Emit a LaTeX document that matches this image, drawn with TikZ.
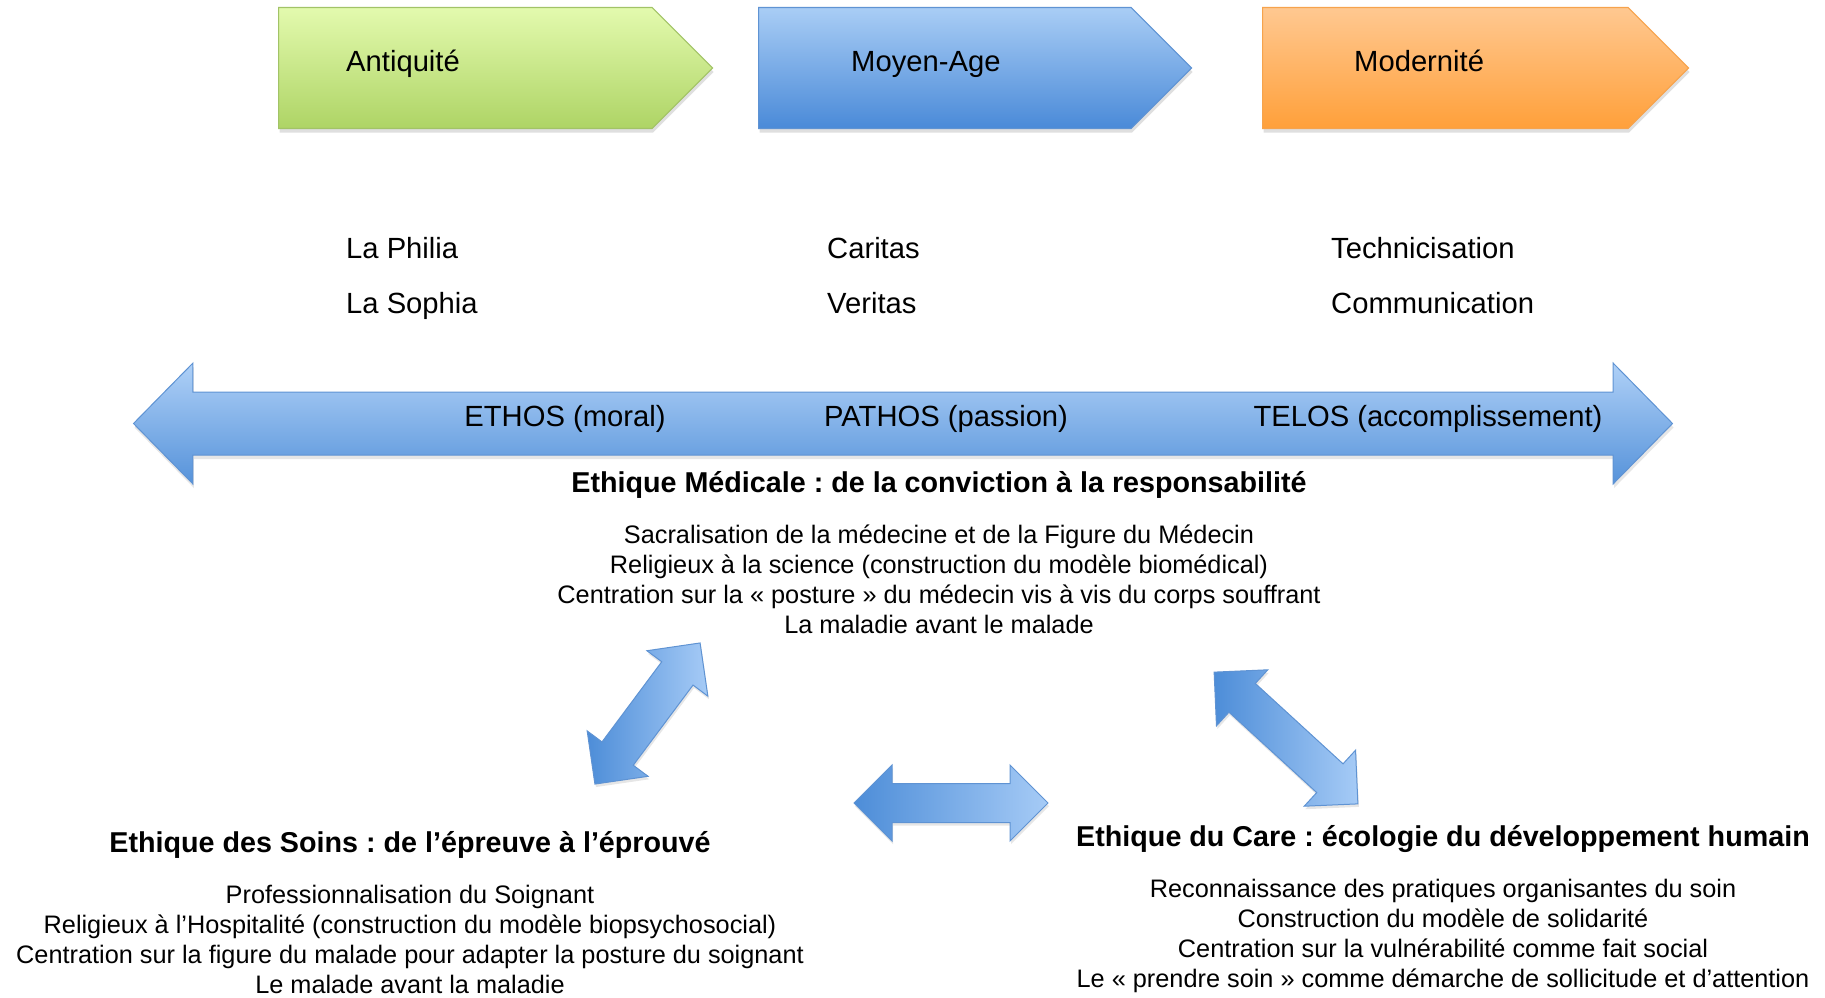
\documentclass[tikz,border=0pt]{standalone}
\usepackage{fontspec}
\setmainfont{Liberation Sans}
\usetikzlibrary{shapes.arrows,shapes.symbols,shadows}
\frenchspacing

\definecolor{greentop}{HTML}{E3FAAE}
\definecolor{greenbot}{HTML}{AED465}
\definecolor{greenline}{HTML}{A2C367}
\definecolor{bluetop}{HTML}{A9CDF5}
\definecolor{bluebot}{HTML}{4A8AD8}
\definecolor{blueline}{HTML}{5F93D3}
\definecolor{orangetop}{HTML}{FFC891}
\definecolor{orangebot}{HTML}{FFA03A}
\definecolor{orangeline}{HTML}{F6A34C}
\definecolor{arrowlight}{HTML}{A6CBF6}
\definecolor{arrowdark}{HTML}{4D8DD8}

\tikzset{
  period/.style={signal, signal to=east, signal pointer angle=90,
    minimum height=121pt, inner sep=0pt, line width=1.2pt, anchor=west,
    drop shadow={shadow xshift=1pt, shadow yshift=-4pt, opacity=0.25}},
  fatarrow/.style={double arrow, double arrow head extend=18.5pt,
    double arrow tip angle=90, inner xsep=0pt, inner ysep=19pt,
    draw=blueline, line width=1pt, left color=arrowdark, right color=arrowlight,
    drop shadow={shadow xshift=1pt, shadow yshift=-3pt, opacity=0.2}},
  big/.style={font=\fontsize{29.2}{36}\selectfont, inner sep=0pt},
  heading/.style={font=\fontsize{28.7}{34}\selectfont\bfseries, inner sep=0pt, anchor=base},
  body/.style={font=\fontsize{25.3}{30}\selectfont, align=center, anchor=north, inner sep=0pt}
}

\begin{document}
\begin{tikzpicture}[x=1pt,y=-1pt]
  \useasboundingbox (0,0) rectangle (1825,997);

  % periodes
  \node[period, minimum width=434pt, draw=greenline, top color=greentop, bottom color=greenbot] (ANTI) at (278,68) {};
  \node[period, minimum width=433pt, draw=blueline, top color=bluetop, bottom color=bluebot] (MOYEN) at (758,68) {};
  \node[period, minimum width=426pt, draw=orangeline, top color=orangetop, bottom color=orangebot] (MODERNE) at (1262,68) {};
  \node[big, anchor=base west] (ANTIT) at (346,71) {Antiquité};
  \node[big, anchor=base west] (MOYENT) at (851,71) {Moyen-Age};
  \node[big, anchor=base west] (MODERNET) at (1354,71) {Modernité};

  \node[big, anchor=base west] (PHILIA) at (346,258) {La Philia};
  \node[big, anchor=base west] (SOPHIA) at (346,313) {La Sophia};
  \node[big, anchor=base west] (CARITAS) at (827,258) {Caritas};
  \node[big, anchor=base west] (VERITAS) at (827,313) {Veritas};
  \node[big, anchor=base west] (TECH) at (1331,258) {Technicisation};
  \node[big, anchor=base west] (COMM) at (1331,313) {Communication};

  % grande fleche
  \node[double arrow, double arrow head extend=29pt, double arrow tip angle=91,
    minimum height=1539pt, inner xsep=0pt, inner ysep=31pt,
    draw=blueline, line width=1pt, top color=arrowlight!90!white, bottom color=arrowdark!95!white,
    drop shadow={shadow xshift=1pt, shadow yshift=-4pt, opacity=0.2}] (AXE) at (903,423.5) {};
  \node[big, anchor=base] (ETHOS) at (565,426) {ETHOS (moral)};
  \node[big, anchor=base] (PATHOS) at (946,426) {PATHOS (passion)};
  \node[big, anchor=base] (TELOS) at (1428,426) {TELOS (accomplissement)};

  % ethiques
  \node[heading] (MED) at (939,492) {Ethique Médicale : de la conviction à la responsabilité};
  \node[body] (MEDL) at (939,524.5) {Sacralisation de la médecine et de la Figure du Médecin\\
    Religieux à la science (construction du modèle biomédical)\\
    Centration sur la « posture » du médecin vis à vis du corps souffrant\\
    La maladie avant le malade};

  \node[heading] (SOINS) at (410,852) {Ethique des Soins : de l’épreuve à l’éprouvé};
  \node[body] (SOINSL) at (410,884.5) {Professionnalisation du Soignant\\
    Religieux à l’Hospitalité (construction du modèle biopsychosocial)\\
    Centration sur la figure du malade pour adapter la posture du soignant\\
    Le malade avant la maladie};

  \node[heading] (CARE) at (1443,846) {Ethique du Care : écologie du développement humain};
  \node[body] (CAREL) at (1443,878.5) {Reconnaissance des pratiques organisantes du soin\\
    Construction du modèle de solidarité\\
    Centration sur la vulnérabilité comme fait social\\
    Le « prendre soin » comme démarche de sollicitude et d’attention};

  % liens
  \node[fatarrow, minimum height=176pt, rotate=53.3] (MS) at (647.5,713.5) {};
  \node[fatarrow, minimum height=194pt] (SC) at (951,803) {};
  \node[fatarrow, minimum height=195pt, rotate=-42.5] (MC) at (1286,738) {};

\end{tikzpicture}
\end{document}
